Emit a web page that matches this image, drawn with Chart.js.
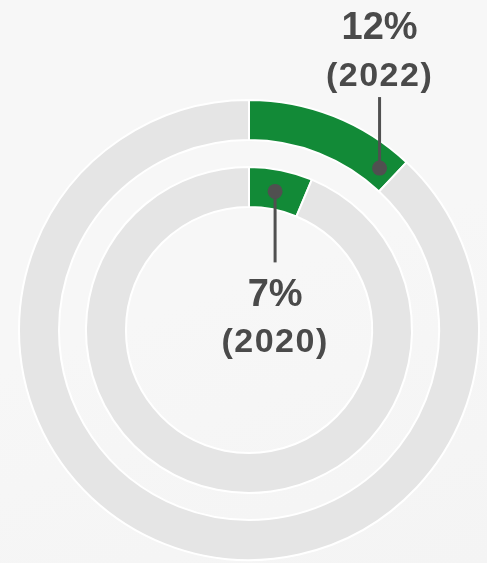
<!DOCTYPE html>
<html>
<head>
<meta charset="utf-8">
<script src="https://cdn.jsdelivr.net/npm/chart.js@4/dist/chart.umd.min.js"></script>
<style>
  html, body { margin: 0; padding: 0; }
  body {
    width: 487px; height: 563px; overflow: hidden;
    background: linear-gradient(160deg, #f7f7f7 0%, #f7f7f7 50%, #f4f4f4 100%);
  }
  #wrap { position: relative; width: 487px; height: 563px; }
</style>
</head>
<body>
<div id="wrap"><canvas id="c" width="487" height="563"></canvas></div>
<script>
// ---- data ----
const years = ['2022', '2020'];
const shareLabels = ['12%', '7%'];   // printed labels
const arcShares = [12, 6.3];         // arc sizes as drawn in the picture (percent)
const ringLabels = ['Share', 'Rest'];

// ---- styling ----
const GREEN = '#128a37';
const GRAY = '#e5e5e5';
const INK = '#4a4a4a';

function ringData(v) { return [v, 100 - v]; }

const labelPlugin = {
  id: 'leaderLabels',
  afterDatasetsDraw(chart) {
    const ctx = chart.ctx;
    const specs = [
      { ds: 0, i: 0, frac: 0.9, dir: -1 },
      { ds: 2, i: 1, frac: 0.47, dir: 1 }
    ];
    specs.forEach(s => {
      const arc = chart.getDatasetMeta(s.ds).data[0];
      const a = arc.startAngle + (arc.endAngle - arc.startAngle) * s.frac;
      const r = (arc.innerRadius + arc.outerRadius) / 2 - 2;
      const px = arc.x + Math.cos(a) * r;
      const py = arc.y + Math.sin(a) * r;
      const lineEnd = py + s.dir * 71;
      ctx.save();
      ctx.strokeStyle = '#505050';
      ctx.lineWidth = 3;
      ctx.beginPath();
      ctx.moveTo(px, py);
      ctx.lineTo(px, lineEnd);
      ctx.stroke();
      ctx.fillStyle = '#505050';
      ctx.beginPath();
      ctx.arc(px, py, 7.5, 0, Math.PI * 2);
      ctx.fill();
      ctx.fillStyle = INK;
      ctx.textAlign = 'center';
      ctx.textBaseline = 'alphabetic';
      const big = shareLabels[s.i];
      const small = '(' + years[s.i] + ')';
      if (s.dir < 0) {
        ctx.font = 'bold 34px "Liberation Sans", Arial, sans-serif';
        ctx.letterSpacing = '1.5px';
        ctx.fillText(small, px, lineEnd - 11);
        ctx.letterSpacing = '0px';
        ctx.font = 'bold 38px "Liberation Sans", Arial, sans-serif';
        ctx.fillText(big, px, lineEnd - 58);
      } else {
        ctx.font = 'bold 38px "Liberation Sans", Arial, sans-serif';
        ctx.fillText(big, px, lineEnd + 44);
        ctx.font = 'bold 34px "Liberation Sans", Arial, sans-serif';
        ctx.letterSpacing = '1.5px';
        ctx.fillText(small, px, lineEnd + 90);
        ctx.letterSpacing = '0px';
      }
      ctx.restore();
    });
  }
};

new Chart(document.getElementById('c'), {
  type: 'doughnut',
  data: {
    labels: ringLabels,
    datasets: [
      { label: years[0], data: ringData(arcShares[0]), backgroundColor: [GREEN, GRAY],
        borderColor: '#ffffff', borderWidth: 2, weight: 40 },
      { label: 'gap', data: [1], backgroundColor: ['rgba(0,0,0,0)'], borderWidth: 0, weight: 27 },
      { label: years[1], data: ringData(arcShares[1]), backgroundColor: [GREEN, GRAY],
        borderColor: '#ffffff', borderWidth: 2, weight: 40 }
    ]
  },
  options: {
    responsive: false,
    devicePixelRatio: 1,
    animation: false,
    radius: 230,
    cutout: '53.5%',
    layout: { padding: { top: 100, bottom: 3, left: 19, right: 8 } },
    plugins: { legend: { display: false }, tooltip: { enabled: false } }
  },
  plugins: [labelPlugin]
});
</script>
</body>
</html>
